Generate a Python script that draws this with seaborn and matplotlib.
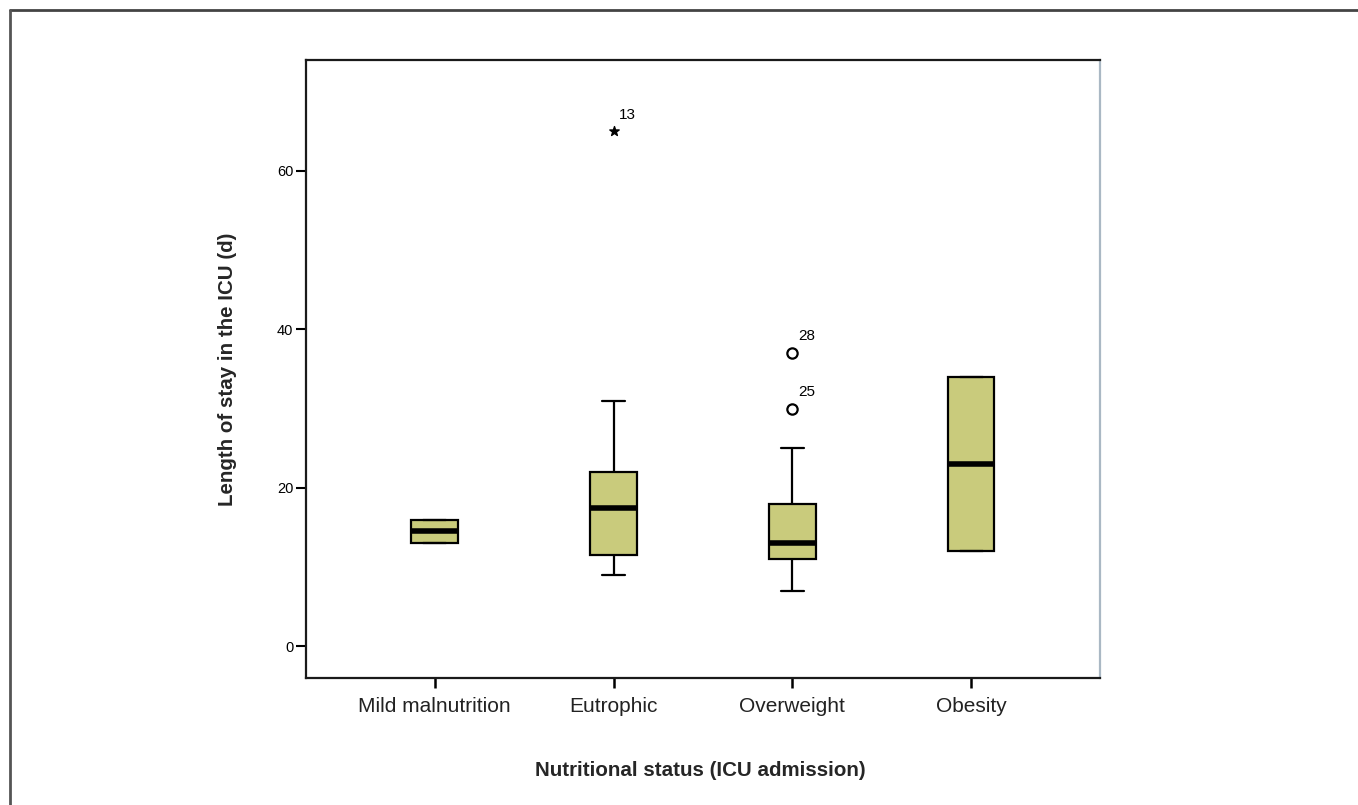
import numpy as np
import pandas as pd
import matplotlib
matplotlib.use("Agg")
import matplotlib.pyplot as plt
from matplotlib.lines import Line2D
import seaborn as sns

# Length of stay (days) per nutritional status group
groups = ["Mild malnutrition", "Eutrophic", "Overweight", "Obesity"]
mild_days = [13, 13, 16, 16]
eutrophic_days = [9, 10, 11.5, 15, 17.5, 20, 22, 31, 65]
overweight_days = [7, 9, 10, 11, 12, 12, 13, 14, 16, 18, 25, 30, 37]
obesity_days = [12, 12, 23, 34, 34]

# outlying cases flagged on the chart
flier_group = ["Eutrophic", "Overweight", "Overweight"]
flier_value = [65, 37, 30]
flier_case = ["13", "28", "25"]
flier_marker = ["*", "o", "o"]

yticks = [0, 20, 40, 60]

rows = []
for g, vals in zip(groups, [mild_days, eutrophic_days, overweight_days, obesity_days]):
    for v in vals:
        rows.append({"status": g, "days": v})
df = pd.DataFrame(rows)

sns.set_style("white")
plt.rcParams["font.family"] = ["Liberation Sans", "DejaVu Sans"]

fig = plt.figure(figsize=(13.58, 8.05), dpi=100)
ax = fig.add_axes([0.2253, 0.1578, 0.5847, 0.7677])

box_color = "#c9cb7c"
sns.boxplot(data=df, x="status", y="days", order=groups, ax=ax,
            color=box_color, linecolor="black", linewidth=1.6,
            width=0.26, whis=1.5, showfliers=False, saturation=1,
            medianprops={"linewidth": 4, "color": "black"})

for g, v, case, m in zip(flier_group, flier_value, flier_case, flier_marker):
    pos = groups.index(g)
    if m == "*":
        ax.scatter([pos], [v], marker="*", s=50, color="black", zorder=5)
    else:
        ax.scatter([pos], [v], marker="o", s=55, facecolor="white",
                   edgecolor="black", linewidth=1.6, zorder=5)
    ax.annotate(case, (pos, v), xytext=(4, 7), textcoords="offset points",
                fontsize=11, color="black", va="bottom", ha="left")

ax.set_xlim(-0.72, 3.72)
ax.set_ylim(-4, 74)
ax.set_yticks(yticks)
ax.set_yticklabels([str(t) for t in yticks], fontsize=10.5)
ax.tick_params(axis="x", labelsize=15, length=7, width=1.8, direction="out",
               colors="black", labelcolor="#222222", pad=7)
ax.tick_params(axis="y", length=7, width=1.5, direction="out", colors="black", pad=2)
ax.tick_params(bottom=True, left=True)

for s in ax.spines.values():
    s.set_linewidth(1.6)
    s.set_color("#1a1a1a")
ax.spines["right"].set_color("#aab8c4")

ax.set_xlabel("Nutritional status (ICU admission)", fontsize=14.8,
              fontweight="bold")
ax.xaxis.set_label_coords(0.497, -0.135)
ax.set_ylabel("Length of stay in the ICU (d)", fontsize=14.8,
              fontweight="bold")
ax.yaxis.set_label_coords(-0.087, 0.5)

# outer frame lines (top and left)
fig.add_artist(Line2D([10 / 1358, 1], [1 - 10 / 805, 1 - 10 / 805],
                      color="#444444", linewidth=2, transform=fig.transFigure))
fig.add_artist(Line2D([10 / 1358, 10 / 1358], [0, 1 - 10 / 805],
                      color="#555555", linewidth=2, transform=fig.transFigure))

fig.savefig("out.png", dpi=100)
